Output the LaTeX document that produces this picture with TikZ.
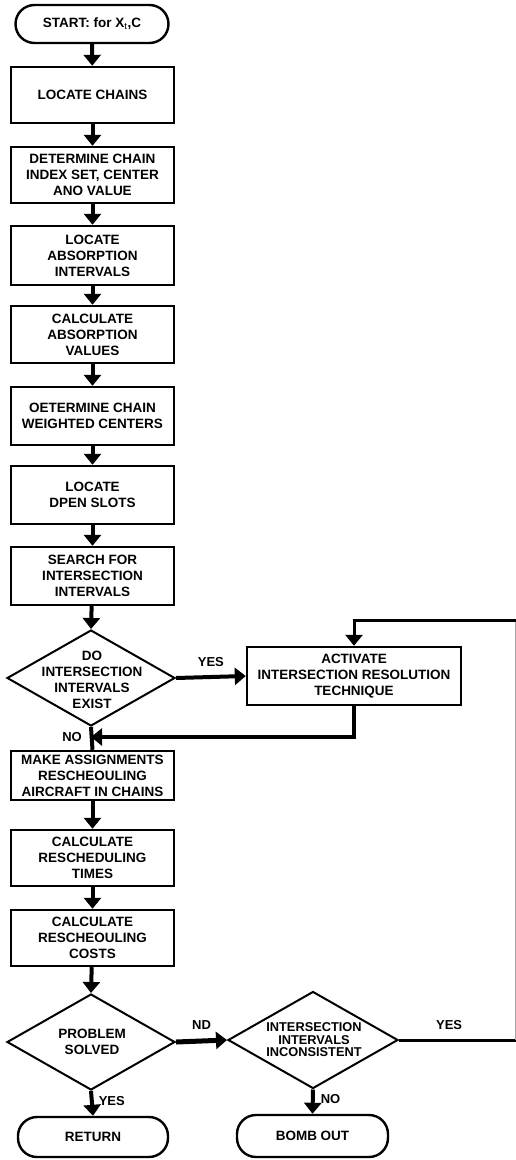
\documentclass[tikz,border=0pt]{standalone}
\usepackage{fontspec}
\setmainfont{Liberation Sans}
\usetikzlibrary{shapes.geometric,arrows.meta}
\begin{document}
\begin{tikzpicture}[x=1pt,y=-1pt,
  txt/.style={font=\bfseries\fontsize{13.5}{16}\selectfont, align=center, inner sep=0pt},
  procbox/.style={draw, line width=2.4pt, minimum width=163pt, txt},
  term/.style={draw, line width=2.4pt, rounded corners=19pt, txt},
  decision/.style={draw, diamond, line width=2pt, inner sep=0pt},
  flow/.style={line width=4pt, -{Triangle[length=11pt,width=17pt]}},
  plain/.style={line width=4pt},
  lbl/.style={font=\bfseries\fontsize{13}{15}\selectfont, inner sep=0pt}
]
\useasboundingbox (0,0) rectangle (515,1160);

% terminals
\node[term, minimum width=153pt, minimum height=38pt] (start) at (92,24) {START: for X$_{\mathrm t}$,C};
\node[term, minimum width=150pt, minimum height=40pt] (ret) at (93,1137) {RETURN};
\node[term, minimum width=151pt, minimum height=42pt] (bomb) at (312.5,1136) {BOMB OUT};

% processing steps
\node[procbox, minimum height=56pt] (b1) at (92.5,95) {LOCATE CHAINS};
\node[procbox, minimum height=56pt] (b2) at (92.5,175) {DETERMINE CHAIN\\INDEX SET, CENTER\\ANO VALUE};
\node[procbox, minimum height=59pt] (b3) at (92.5,255.5) {LOCATE\\ABSORPTION\\INTERVALS};
\node[procbox, minimum height=57pt] (b4) at (92.5,334.5) {CALCULATE\\ABSORPTION\\VALUES};
\node[procbox, minimum height=58pt] (b5) at (92.5,416) {OETERMINE CHAIN\\WEIGHTED CENTERS};
\node[procbox, minimum height=58pt] (b6) at (92.5,495) {LOCATE\\DPEN SLOTS};
\node[procbox, minimum height=58pt] (b7) at (92.5,576) {SEARCH FOR\\INTERSECTION\\INTERVALS};
\node[procbox, minimum width=214pt, minimum height=58pt] (act) at (354,676) {ACTIVATE\\INTERSECTION RESOLUTION\\TECHNIQUE};
\node[procbox, minimum height=49pt] (b8) at (92.5,775.5) {MAKE ASSIGNMENTS\\RESCHEOULING\\AIRCRAFT IN CHAINS};
\node[procbox, minimum height=56pt] (b9) at (92.5,858) {CALCULATE\\RESCHEDULING\\TIMES};
\node[procbox, minimum height=56pt] (b10) at (92.5,938) {CALCULATE\\RESCHEOULING\\COSTS};

% decisions
\node[decision, minimum width=168pt, minimum height=96pt] (d1) at (91,678) {};
\node[txt] (d1t) at (92,680) {DO\\INTERSECTION\\INTERVALS\\EXIST};
\node[decision, minimum width=168pt, minimum height=96pt] (d2) at (91,1042) {};
\node[txt] (d2t) at (92,1042) {PROBLEM\\SOLVED};
\node[decision, minimum width=170pt, minimum height=97pt] (d3) at (313,1040) {};
\node[txt, font=\bfseries\fontsize{12.8}{12.5}\selectfont] (d3t) at (314,1040) {INTERSECTION\\INTERVALS\\INCONSISTENT};

% main flow
\draw[flow] (start) -- (b1);
\draw[flow] (b1) -- (b2);
\draw[flow] (b2) -- (b3);
\draw[flow] (b3) -- (b4);
\draw[flow] (b4) -- (b5);
\draw[flow] (b5) -- (b6);
\draw[flow] (b6) -- (b7);
\draw[flow] (b7) -- (d1.north);
\draw[flow] (d1.east) -- node[lbl, above=8pt] (yes1) {YES} (act.west);
\coordinate (join) at (d1.south |- 0,737);
\draw[plain] (d1.south) -- (b8.north);
\draw[flow] (act.south) |- (join);
\node[lbl, left=9pt] (no1) at (join) {NO};
\draw[flow] (b8) -- (b9);
\draw[flow] (b9) -- (b10);
\draw[flow] (b10) -- (d2.north);
\draw[flow, line width=5pt] (d2.east) -- node[lbl, above=9pt] (nd) {ND} (d3.west);
\draw[flow] (d2.south) -- node[lbl, right=5pt, pos=0.4] (yes2) {YES} (ret.north);
\draw[flow] (d3.south) -- node[lbl, right=6pt, pos=0.4] (no2) {NO} (bomb.north);

% retry loop back to the resolution step; its right-hand leg runs along the page edge
\coordinate (loopr) at (515.5,1040);
\coordinate (loopt) at (515.5,620);
\draw[plain, line width=3pt] (d3.east) -- node[lbl, above=9pt, pos=0.43] (yes3) {YES} (loopr);
\draw[plain, line width=1pt, black!35] (loopr) -- (loopt);
\draw[flow, line width=3pt] (loopt) -| (act.north);
\end{tikzpicture}
\end{document}
